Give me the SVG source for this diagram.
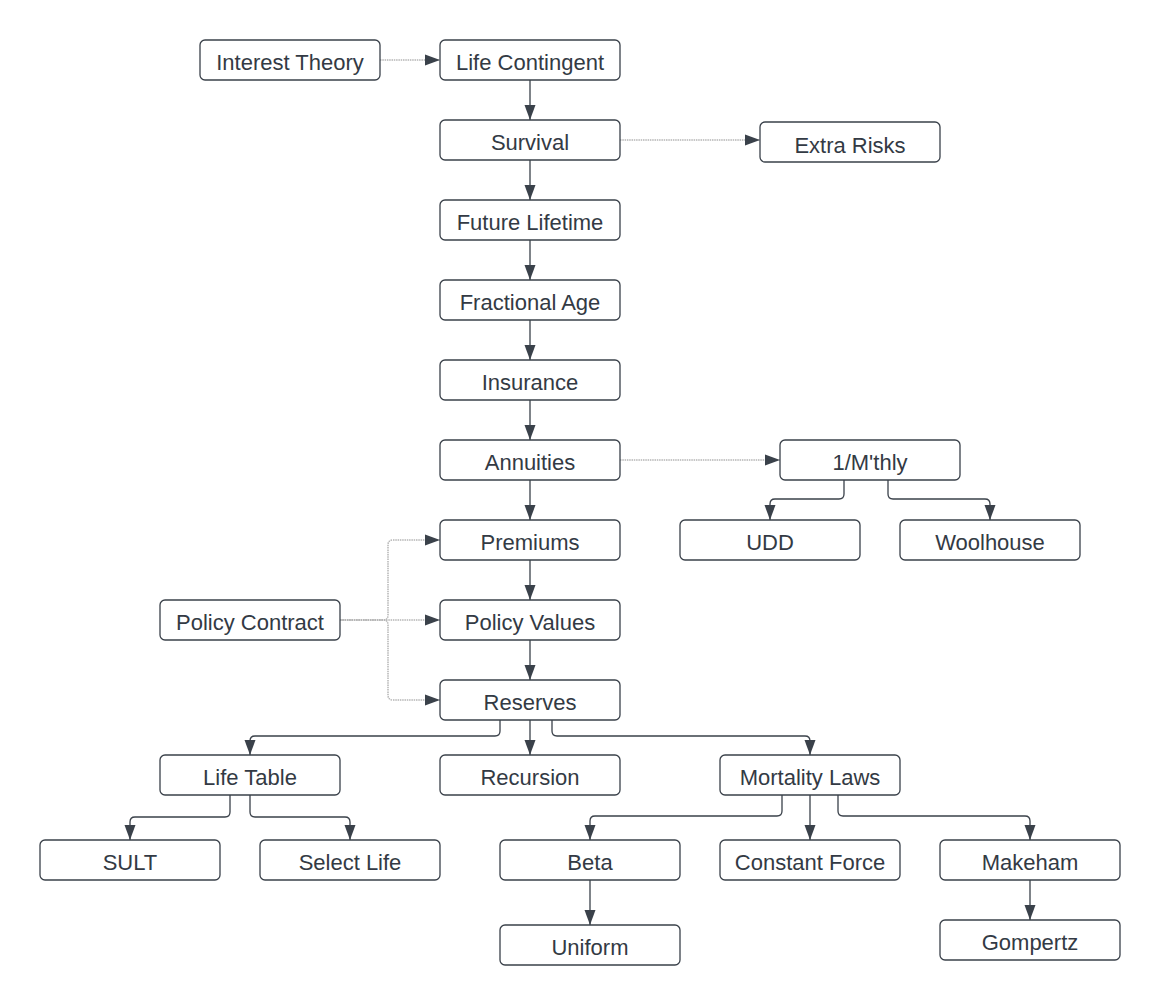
<svg xmlns="http://www.w3.org/2000/svg" width="1160" height="1006" viewBox="0 0 1160 1006">
<style>
.n rect{fill:#fff;stroke:#3a414a;stroke-width:1.3}
.n text{font-family:"Liberation Sans",Arial,sans-serif;font-size:22px;fill:#333a44;text-anchor:middle}
.c path{fill:none;stroke:#3a414a;stroke-width:1.3}
.c path.d{stroke:#b5b5b5;stroke-width:1.5;stroke-dasharray:1.5 0.8}
</style>
<defs>
<marker id="ah" markerUnits="userSpaceOnUse" markerWidth="16" markerHeight="12" refX="15" refY="6" orient="auto">
<path d="M0,0.5 L15,6 L0,11.5 z" fill="#3a414a"/>
</marker>
</defs>
<rect width="1160" height="1006" fill="#fff"/>
<g class="c">
<path class="d" d="M380,60 H440" marker-end="url(#ah)"/>
<path d="M530,80 V120" marker-end="url(#ah)"/>
<path d="M530,160 V200" marker-end="url(#ah)"/>
<path d="M530,240 V280" marker-end="url(#ah)"/>
<path d="M530,320 V360" marker-end="url(#ah)"/>
<path d="M530,400 V440" marker-end="url(#ah)"/>
<path d="M530,480 V520" marker-end="url(#ah)"/>
<path d="M530,560 V600" marker-end="url(#ah)"/>
<path d="M530,640 V680" marker-end="url(#ah)"/>
<path class="d" d="M620,140 H760" marker-end="url(#ah)"/>
<path class="d" d="M620,460 H780" marker-end="url(#ah)"/>
<path d="M844,480 V494 Q844,499 839,499 H775 Q770,499 770,504 V520" marker-end="url(#ah)"/>
<path d="M888,480 V494 Q888,499 893,499 H985 Q990,499 990,504 V520" marker-end="url(#ah)"/>
<path class="d" d="M340,620 H383 Q388,620 388,615 V545 Q388,540 393,540 H440" marker-end="url(#ah)"/>
<path class="d" d="M340,620 H440" marker-end="url(#ah)"/>
<path class="d" d="M340,620 H383 Q388,620 388,625 V695 Q388,700 393,700 H440" marker-end="url(#ah)"/>
<path d="M500,720 V731 Q500,736 495,736 H255 Q250,736 250,741 V755" marker-end="url(#ah)"/>
<path d="M530,720 V755" marker-end="url(#ah)"/>
<path d="M552,720 V731 Q552,736 557,736 H805 Q810,736 810,741 V755" marker-end="url(#ah)"/>
<path d="M230,795 V812 Q230,817 225,817 H135 Q130,817 130,822 V840" marker-end="url(#ah)"/>
<path d="M250,795 V812 Q250,817 255,817 H345 Q350,817 350,822 V840" marker-end="url(#ah)"/>
<path d="M782,795 V811 Q782,816 777,816 H595 Q590,816 590,821 V840" marker-end="url(#ah)"/>
<path d="M810,795 V840" marker-end="url(#ah)"/>
<path d="M838,795 V811 Q838,816 843,816 H1025 Q1030,816 1030,821 V840" marker-end="url(#ah)"/>
<path d="M590,880 V925" marker-end="url(#ah)"/>
<path d="M1030,880 V920" marker-end="url(#ah)"/>
</g>
<g id="interest-theory" class="n"><rect x="200" y="40" width="180" height="40" rx="5"/><text x="290" y="70">Interest Theory</text></g>
<g id="life-contingent" class="n"><rect x="440" y="40" width="180" height="40" rx="5"/><text x="530" y="70">Life Contingent</text></g>
<g id="survival" class="n"><rect x="440" y="120" width="180" height="40" rx="5"/><text x="530" y="150">Survival</text></g>
<g id="extra-risks" class="n"><rect x="760" y="122" width="180" height="40" rx="5"/><text x="850" y="152.5">Extra Risks</text></g>
<g id="future-lifetime" class="n"><rect x="440" y="200" width="180" height="40" rx="5"/><text x="530" y="230">Future Lifetime</text></g>
<g id="fractional-age" class="n"><rect x="440" y="280" width="180" height="40" rx="5"/><text x="530" y="310">Fractional Age</text></g>
<g id="insurance" class="n"><rect x="440" y="360" width="180" height="40" rx="5"/><text x="530" y="390">Insurance</text></g>
<g id="annuities" class="n"><rect x="440" y="440" width="180" height="40" rx="5"/><text x="530" y="470">Annuities</text></g>
<g id="mthly" class="n"><rect x="780" y="440" width="180" height="40" rx="5"/><text x="870" y="470">1/M'thly</text></g>
<g id="udd" class="n"><rect x="680" y="520" width="180" height="40" rx="5"/><text x="770" y="550">UDD</text></g>
<g id="woolhouse" class="n"><rect x="900" y="520" width="180" height="40" rx="5"/><text x="990" y="550">Woolhouse</text></g>
<g id="premiums" class="n"><rect x="440" y="520" width="180" height="40" rx="5"/><text x="530" y="550">Premiums</text></g>
<g id="policy-contract" class="n"><rect x="160" y="600" width="180" height="40" rx="5"/><text x="250" y="630">Policy Contract</text></g>
<g id="policy-values" class="n"><rect x="440" y="600" width="180" height="40" rx="5"/><text x="530" y="630">Policy Values</text></g>
<g id="reserves" class="n"><rect x="440" y="680" width="180" height="40" rx="5"/><text x="530" y="710">Reserves</text></g>
<g id="life-table" class="n"><rect x="160" y="755" width="180" height="40" rx="5"/><text x="250" y="785">Life Table</text></g>
<g id="recursion" class="n"><rect x="440" y="755" width="180" height="40" rx="5"/><text x="530" y="785">Recursion</text></g>
<g id="mortality-laws" class="n"><rect x="720" y="755" width="180" height="40" rx="5"/><text x="810" y="785">Mortality Laws</text></g>
<g id="sult" class="n"><rect x="40" y="840" width="180" height="40" rx="5"/><text x="130" y="870">SULT</text></g>
<g id="select-life" class="n"><rect x="260" y="840" width="180" height="40" rx="5"/><text x="350" y="870">Select Life</text></g>
<g id="beta" class="n"><rect x="500" y="840" width="180" height="40" rx="5"/><text x="590" y="870">Beta</text></g>
<g id="constant-force" class="n"><rect x="720" y="840" width="180" height="40" rx="5"/><text x="810" y="870">Constant Force</text></g>
<g id="makeham" class="n"><rect x="940" y="840" width="180" height="40" rx="5"/><text x="1030" y="870">Makeham</text></g>
<g id="uniform" class="n"><rect x="500" y="925" width="180" height="40" rx="5"/><text x="590" y="955">Uniform</text></g>
<g id="gompertz" class="n"><rect x="940" y="920" width="180" height="40" rx="5"/><text x="1030" y="950">Gompertz</text></g>
</svg>
